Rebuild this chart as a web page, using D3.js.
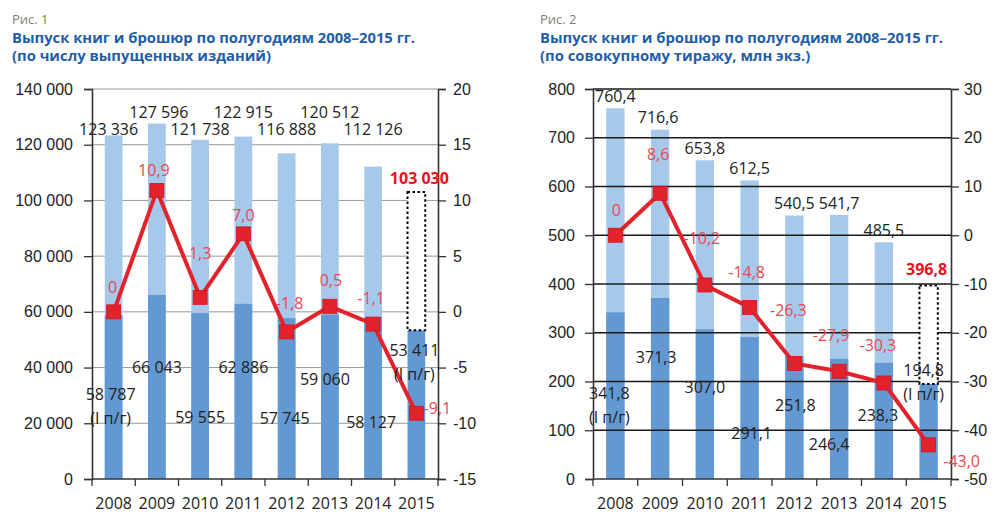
<!DOCTYPE html>
<html>
<head>
<meta charset="utf-8">
<script src="https://cdn.jsdelivr.net/npm/d3@7"></script>
<style>
  body { margin: 0; background: #fff; }
  svg { display: block; font-family: "Open Sans", "Noto Sans", sans-serif; }
</style>
</head>
<body>
<div id="chart"></div>
<script>
// years on the x axis (both figures)
var years = ["2008", "2009", "2010", "2011", "2012", "2013", "2014", "2015"];

// Fig 1: number of titles
var titlesYear = [123336, 127596, 121738, 122915, 116888, 120512, 112126, 103030];
var titlesHalf = [58787, 66043, 59555, 62886, 57745, 59060, 58127, 53411];
var titlesChange = [0, 10.9, 1.3, 7.0, -1.8, 0.5, -1.1, -9.1];
var titlesLeftTicks = [0, 20000, 40000, 60000, 80000, 100000, 120000, 140000];
var titlesRightTicks = [-15, -10, -5, 0, 5, 10, 15, 20];

// Fig 2: total print run, mln copies
var printYear = [760.4, 716.6, 653.8, 612.5, 540.5, 541.7, 485.5, 396.8];
var printHalf = [341.8, 371.3, 307.0, 291.1, 251.8, 246.4, 238.3, 194.8];
var printChange = [0, 8.6, -10.2, -14.8, -26.3, -27.9, -30.3, -43.0];
var printLeftTicks = [0, 100, 200, 300, 400, 500, 600, 700, 800];
var printRightTicks = [-50, -40, -30, -20, -10, 0, 10, 20, 30];

var ru = d3.formatLocale({decimal: ",", thousands: "\u00a0", grouping: [3], currency: ["", ""], minus: "-"});
var fmtInt = ru.format(",d");
var fmtTick = ru.format("d");
var fmt1 = ru.format(".1f");
var fmtChg = function (v) { return v === 0 ? "0" : fmt1(v); };

var svg = d3.select("#chart").append("svg")
    .attr("width", 1000)
    .attr("height", 518);

var LIGHT = "#a6c9eb", DARK = "#6399d2", RED = "#e3232b", REDTXT = "#ec4650";

function drawChart(cfg) {
    var g = svg.append("g");

    // headings
    g.append("text").attr("x", cfg.tx).attr("y", 24)
        .attr("font-size", 13).attr("fill", "#808080").text(cfg.fig);
    g.append("text").attr("x", cfg.tx).attr("y", 43)
        .attr("font-size", 14.8).attr("font-weight", 700).attr("fill", "#1f5ea8")
        .text(cfg.title1);
    g.append("text").attr("x", cfg.tx).attr("y", 61)
        .attr("font-size", 14.8).attr("font-weight", 700).attr("fill", "#1f5ea8")
        .text(cfg.title2);

    var x = d3.scaleBand().domain(years).range([cfg.x0, cfg.x1]).paddingInner(0.59).paddingOuter(0.295);
    var band = d3.scaleBand().domain(years).range([cfg.x0, cfg.x1]);
    var yL = d3.scaleLinear().domain(cfg.leftDomain).range([479, 89]);
    var yR = d3.scaleLinear().domain(cfg.rightDomain).range([479, 89]);
    var cx = function (d) { return band(d) + band.bandwidth() / 2; };
    var last = years.length - 1;

    function grid() {
        g.append("g").selectAll("line")
            .data(cfg.leftTicks.slice(1))
            .enter().append("line")
            .attr("x1", cfg.x0).attr("x2", cfg.x1)
            .attr("y1", function (d) { return yL(d); })
            .attr("y2", function (d) { return yL(d); })
            .attr("stroke", cfg.gridColor)
            .attr("stroke-width", cfg.gridWidth);
    }

    if (!cfg.gridOnTop) grid();

    // full-year bars (2015 drawn as dotted box)
    g.append("g").selectAll("rect")
        .data(years.slice(0, last))
        .enter().append("rect")
        .attr("x", function (d) { return x(d); })
        .attr("width", x.bandwidth())
        .attr("y", function (d, i) { return yL(cfg.total[i]); })
        .attr("height", function (d, i) { return yL(0) - yL(cfg.total[i]); })
        .attr("fill", LIGHT);

    // first-half bars
    g.append("g").selectAll("rect")
        .data(years)
        .enter().append("rect")
        .attr("x", function (d) { return x(d); })
        .attr("width", x.bandwidth())
        .attr("y", function (d, i) { return yL(cfg.half[i]); })
        .attr("height", function (d, i) { return yL(0) - yL(cfg.half[i]); })
        .attr("fill", DARK);

    if (cfg.gridOnTop) grid();

    // dotted box for the 2015 full-year estimate
    g.append("rect")
        .attr("x", x(years[last]))
        .attr("width", x.bandwidth())
        .attr("y", yL(cfg.total[last]))
        .attr("height", yL(cfg.half[last]) - yL(cfg.total[last]))
        .attr("fill", "#fff")
        .attr("stroke", "#000")
        .attr("stroke-width", 2)
        .attr("stroke-dasharray", "2.5,2.5");

    // axes
    var axL = d3.axisLeft(yL).tickValues(cfg.leftTicks).tickSize(8).tickPadding(cfg.leftPad).tickFormat(cfg.leftFmt);
    var axR = d3.axisRight(yR).tickValues(cfg.rightTicks).tickSize(8).tickPadding(cfg.rightPad).tickFormat(fmtTick);
    [[axL, cfg.x0], [axR, cfg.x1]].forEach(function (a) {
        var ax = g.append("g").attr("transform", "translate(" + a[1] + ",0)").call(a[0]);
        ax.select(".domain").attr("stroke", "#333").attr("stroke-width", 1.6);
        ax.selectAll(".tick line").attr("stroke", "#333").attr("stroke-width", 1.3);
        ax.selectAll("text").attr("font-size", 16).attr("fill", "#222").attr("font-family", null);
    });

    // x axis
    var xa = g.append("g");
    xa.append("line").attr("x1", cfg.x0).attr("x2", cfg.x1)
        .attr("y1", 479).attr("y2", 479).attr("stroke", "#333").attr("stroke-width", 1.6);
    xa.selectAll("line.t")
        .data(years.concat(["end"]))
        .enter().append("line").attr("class", "t")
        .attr("x1", function (d, i) { return cfg.x0 + i * band.bandwidth(); })
        .attr("x2", function (d, i) { return cfg.x0 + i * band.bandwidth(); })
        .attr("y1", 479).attr("y2", 486)
        .attr("stroke", "#333").attr("stroke-width", 1.3);
    xa.selectAll("text")
        .data(years)
        .enter().append("text")
        .attr("x", cx).attr("y", 509)
        .attr("text-anchor", "middle").attr("font-size", 16).attr("fill", "#222")
        .text(function (d) { return d; });

    // change line
    var line = d3.line()
        .x(function (d, i) { return cx(years[i]); })
        .y(function (d) { return yR(d); });
    g.append("path").datum(cfg.change)
        .attr("d", line).attr("fill", "none")
        .attr("stroke", RED).attr("stroke-width", 4).attr("stroke-linejoin", "round");
    g.append("g").selectAll("rect")
        .data(cfg.change)
        .enter().append("rect")
        .attr("x", function (d, i) { return cx(years[i]) - 7; })
        .attr("y", function (d) { return yR(d) - 7; })
        .attr("width", 14).attr("height", 14)
        .attr("fill", RED).attr("stroke", "#d0141c").attr("stroke-width", 0.8);

    // labels
    var lab = g.append("g").attr("font-size", 16).attr("text-anchor", "middle");
    lab.selectAll("text.tot")
        .data(years.slice(0, last))
        .enter().append("text").attr("class", "tot")
        .attr("x", function (d, i) { return cx(d) + cfg.totDx[i]; })
        .attr("y", function (d, i) { return cfg.totY(i, yL(cfg.total[i])); })
        .attr("dy", "0.35em").attr("fill", "#222")
        .text(function (d, i) { return cfg.valFmt(cfg.total[i]); });
    lab.append("text")
        .attr("x", cx(years[last]) + cfg.estDx)
        .attr("y", yL(cfg.total[last]) - cfg.estUp)
        .attr("dy", "0.35em").attr("fill", "#e8101c").attr("font-weight", 700)
        .text(cfg.valFmt(cfg.total[last]));

    lab.selectAll("text.half")
        .data(years)
        .enter().append("text").attr("class", "half")
        .attr("x", function (d, i) { return cx(d) + cfg.halfDx[i]; })
        .attr("y", function (d, i) { return cfg.halfY[i]; })
        .attr("dy", "0.35em").attr("fill", "#222")
        .text(function (d, i) { return cfg.valFmt(cfg.half[i]); });
    [0, last].forEach(function (i) {
        lab.append("text")
            .attr("x", cx(years[i]) + cfg.halfDx[i])
            .attr("y", cfg.halfY[i] + 24)
            .attr("dy", "0.35em").attr("fill", "#222")
            .text("(I п/г)");
    });

    lab.selectAll("text.chg")
        .data(cfg.change)
        .enter().append("text").attr("class", "chg")
        .attr("x", function (d, i) { return cx(years[i]) + cfg.chgOff[i][0]; })
        .attr("y", function (d, i) { return yR(d) + cfg.chgOff[i][1]; })
        .attr("dy", "0.35em").attr("fill", REDTXT)
        .text(fmtChg);
}

drawChart({
    fig: "Рис. 1",
    title1: "Выпуск книг и брошюр по полугодиям 2008–2015 гг.",
    title2: "(по числу выпущенных изданий)",
    tx: 12, x0: 92, x1: 438,
    leftDomain: [0, 140000], rightDomain: [-15, 20],
    leftTicks: titlesLeftTicks, rightTicks: titlesRightTicks,
    leftFmt: fmtInt, leftPad: 11, rightPad: 7,
    total: titlesYear, half: titlesHalf, change: titlesChange,
    valFmt: fmtInt,
    gridColor: "#9a9a9a", gridWidth: 1, gridOnTop: false,
    totDx: [-5, 2, 0, 0, 0, 0, 0],
    totY: function (i) { return i % 2 ? 112 : 129; },
    estDx: 3, estUp: 14,
    halfDx: [-3, 0, 0, 0, -2, -5, -2, -2],
    halfY: [394, 367, 417, 367, 418, 379, 422, 350],
    chgOff: [[-1, -24], [-3, -20], [0, -44], [0, -18], [3, -29], [1, -26], [-2, -26], [21, -5]]
});

drawChart({
    fig: "Рис. 2",
    title1: "Выпуск книг и брошюр по полугодиям 2008–2015 гг.",
    title2: "(по совокупному тиражу, млн экз.)",
    tx: 540, x0: 593, x1: 951,
    leftDomain: [0, 800], rightDomain: [-50, 30],
    leftTicks: printLeftTicks, rightTicks: printRightTicks,
    leftFmt: fmtTick, leftPad: 10, rightPad: 5,
    total: printYear, half: printHalf, change: printChange,
    valFmt: fmt1,
    gridColor: "#1a1a1a", gridWidth: 1.4, gridOnTop: true,
    totDx: [0, -2, 0, 0, 0, 0, 0],
    totY: function (i, top) { return top - 12; },
    estDx: -2, estUp: 16,
    halfDx: [-6, -4, 0, 2, 1, -10, -6, -5],
    halfY: [393, 357, 387, 433, 405, 444, 415, 370],
    chgOff: [[1, -25], [-2, -39], [-3, -47], [-3, -35], [-6, -53], [-8, -36], [-6, -38], [33, 17]]
});
</script>
</body>
</html>
